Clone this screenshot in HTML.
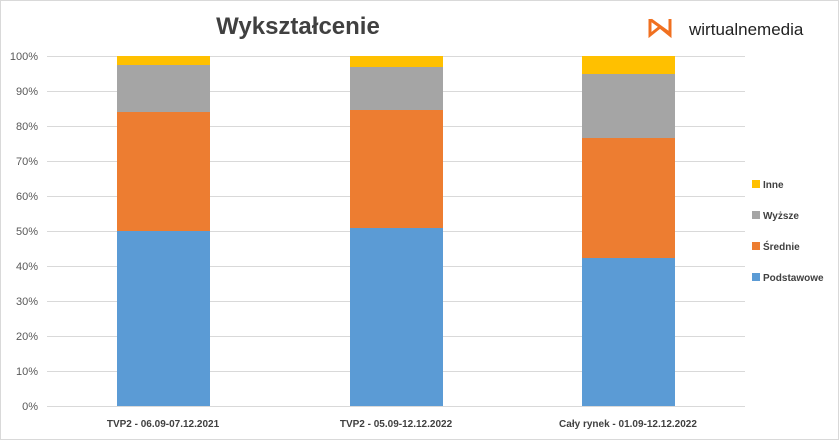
<!DOCTYPE html><html><head><meta charset="utf-8"><style>body{margin:0;background:#fff}svg{display:block}</style></head><body>
<svg width="839" height="440" xmlns="http://www.w3.org/2000/svg" font-family="Liberation Sans, sans-serif">
<rect x="0.5" y="0.5" width="838" height="439" fill="#fff" stroke="#d9d9d9"/>
<text x="298" y="34" font-size="24" font-weight="bold" fill="#404040" text-anchor="middle">Wykształcenie</text>
<g fill="none" stroke="#f07020" stroke-width="3" stroke-linejoin="miter"><path d="M650 19 L650 35 L660 27 L670 35 L670 19"/><path d="M651 20 L669 33"/></g>
<text x="689" y="35" font-size="17" fill="#222">wirtualnemedia</text>
<g stroke="#d9d9d9" stroke-width="1">
<line x1="47" x2="745" y1="56.5" y2="56.5"/><line x1="47" x2="745" y1="91.5" y2="91.5"/><line x1="47" x2="745" y1="126.5" y2="126.5"/><line x1="47" x2="745" y1="161.5" y2="161.5"/><line x1="47" x2="745" y1="196.5" y2="196.5"/><line x1="47" x2="745" y1="231.5" y2="231.5"/><line x1="47" x2="745" y1="266.5" y2="266.5"/><line x1="47" x2="745" y1="301.5" y2="301.5"/><line x1="47" x2="745" y1="336.5" y2="336.5"/><line x1="47" x2="745" y1="371.5" y2="371.5"/><line x1="47" x2="745" y1="406.5" y2="406.5"/></g>
<g font-size="11" fill="#595959" text-anchor="end">
<text x="38" y="60">100%</text><text x="38" y="95">90%</text><text x="38" y="130">80%</text><text x="38" y="165">70%</text><text x="38" y="200">60%</text><text x="38" y="235">50%</text><text x="38" y="270">40%</text><text x="38" y="305">30%</text><text x="38" y="340">20%</text><text x="38" y="375">10%</text><text x="38" y="410">0%</text></g>
<g>
<rect x="117" y="56" width="93" height="9" fill="#ffc000"/><rect x="117" y="65" width="93" height="47" fill="#a5a5a5"/><rect x="117" y="112" width="93" height="119" fill="#ed7d31"/><rect x="117" y="231" width="93" height="175" fill="#5b9bd5"/>
<rect x="350" y="56" width="93" height="11" fill="#ffc000"/><rect x="350" y="67" width="93" height="43" fill="#a5a5a5"/><rect x="350" y="110" width="93" height="118" fill="#ed7d31"/><rect x="350" y="228" width="93" height="178" fill="#5b9bd5"/>
<rect x="582" y="56" width="93" height="18" fill="#ffc000"/><rect x="582" y="74" width="93" height="64" fill="#a5a5a5"/><rect x="582" y="138" width="93" height="120" fill="#ed7d31"/><rect x="582" y="258" width="93" height="148" fill="#5b9bd5"/>
</g>
<g font-size="10" fill="#404040" text-anchor="middle" font-weight="bold">
<text x="163" y="427">TVP2 - 06.09-07.12.2021</text><text x="396" y="427">TVP2 - 05.09-12.12.2022</text><text x="628" y="427">Cały rynek - 01.09-12.12.2022</text></g>
<g font-size="10" fill="#404040" font-weight="bold">
<rect x="752" y="180" width="8" height="8" fill="#ffc000"/><text x="763" y="188">Inne</text>
<rect x="752" y="211" width="8" height="8" fill="#a5a5a5"/><text x="763" y="219">Wyższe</text>
<rect x="752" y="242" width="8" height="8" fill="#ed7d31"/><text x="763" y="250">Średnie</text>
<rect x="752" y="273" width="8" height="8" fill="#5b9bd5"/><text x="763" y="281">Podstawowe</text></g>
</svg></body></html>
